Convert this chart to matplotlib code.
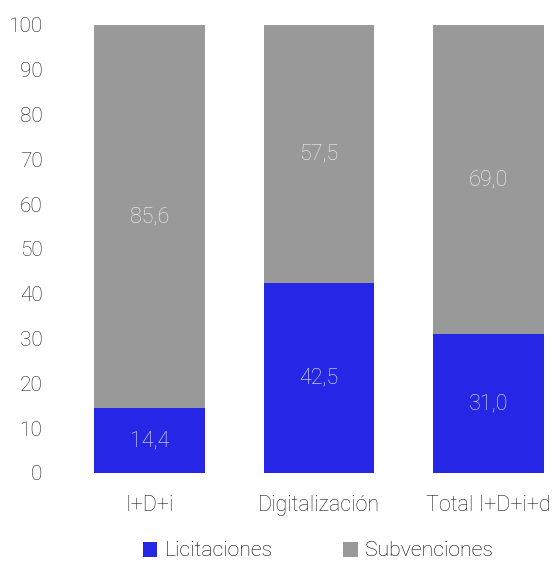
import matplotlib
matplotlib.use('Agg')
import matplotlib.pyplot as plt
import numpy as np

plt.rcParams['font.family'] = ['Roboto', 'DejaVu Sans']
plt.rcParams['font.weight'] = 'light'

categories = ['I+D+i', 'Digitalización', 'Total I+D+i+d']
licitaciones = [14.4, 42.5, 31.0]
subvenciones = [85.6, 57.5, 69.0]
yticks = list(range(0, 101, 10))

blue = '#2626E6'
gray = '#999999'

fig = plt.figure(figsize=(5.52, 5.63), dpi=100)
ax = fig.add_axes([55/552, 90/563, 497/552, 448/563])

x = np.arange(len(categories))
b1 = ax.bar(x, licitaciones, width=0.65, color=blue, label='Licitaciones')
b2 = ax.bar(x, subvenciones, width=0.65, bottom=licitaciones, color=gray, label='Subvenciones')

for i in range(len(categories)):
    ax.text(x[i], licitaciones[i] / 2, f'{licitaciones[i]:.1f}'.replace('.', ','),
            ha='center', va='center', color='#f0f0f8', fontsize=15.5)
    ax.text(x[i], licitaciones[i] + subvenciones[i] / 2, f'{subvenciones[i]:.1f}'.replace('.', ','),
            ha='center', va='center', color='#f2f2f2', fontsize=15.5)

ax.set_xlim(-0.5575, 2.3747)
ax.set_ylim(0, 100)
ax.set_yticks(yticks)
ax.set_xticks(x)
ax.set_xticklabels(categories)
for s in ax.spines.values():
    s.set_visible(False)
ax.tick_params(length=0, labelsize=15, colors='#1e1e1e')
ax.tick_params(axis='x', labelsize=15.5, pad=16)
ax.tick_params(axis='y', pad=9)

fig.legend(handles=[b1, b2], loc='center', bbox_to_anchor=(318/552, 1 - 551/563),
           ncol=2, frameon=False, fontsize=15.3, handlelength=0.7, handleheight=0.7,
           handletextpad=0.35, columnspacing=3.3)

fig.savefig('out.png', dpi=100)
